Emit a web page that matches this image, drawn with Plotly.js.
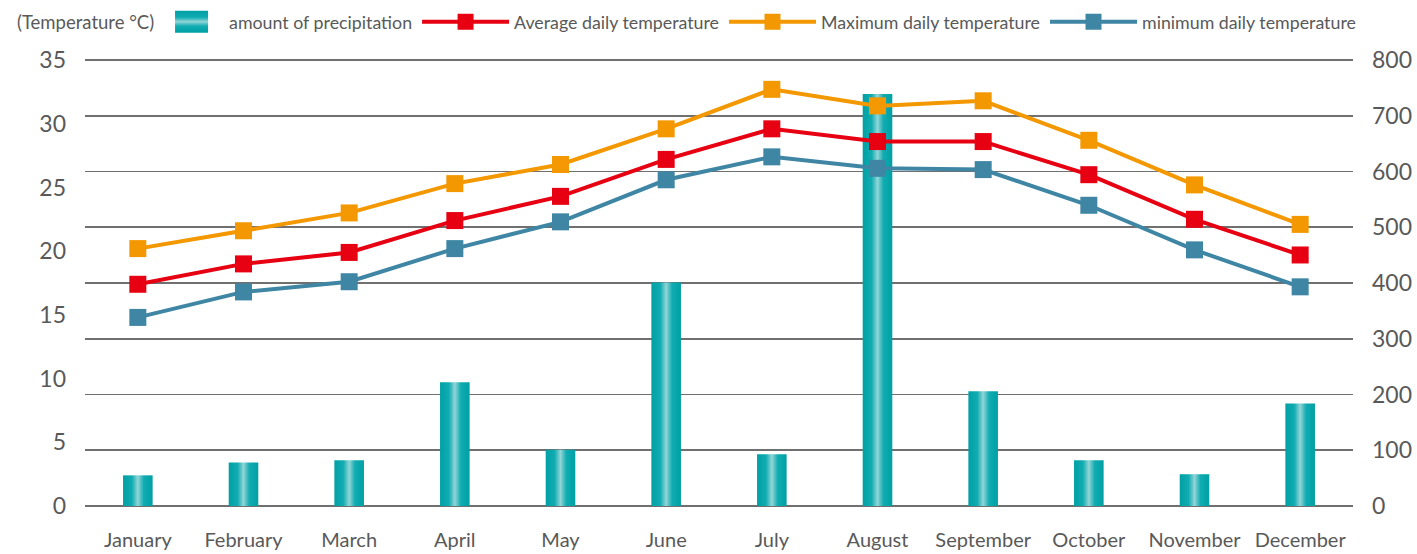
<!DOCTYPE html>
<html>
<head>
<meta charset="utf-8">
<script src="https://cdn.plot.ly/plotly-3.0.1.min.js"></script>
<style>
  html, body { margin: 0; padding: 0; background: #fff; }
  #chart { width: 1417px; height: 554px; }
</style>
</head>
<body>
<div id="chart"></div>
<script>
// Monthly climate data
const months = ['January', 'February', 'March', 'April', 'May', 'June',
                'July', 'August', 'September', 'October', 'November', 'December'];
const precipitation = [55, 78, 82, 222, 101, 401, 93, 739, 206, 82, 57, 184];
const avgTemp = [17.4, 19.0, 19.9, 22.4, 24.3, 27.2, 29.6, 28.6, 28.6, 26.0, 22.5, 19.7];
const maxTemp = [20.2, 21.6, 23.0, 25.3, 26.8, 29.6, 32.7, 31.4, 31.8, 28.7, 25.2, 22.1];
const minTemp = [14.8, 16.8, 17.6, 20.2, 22.3, 25.6, 27.4, 26.5, 26.4, 23.6, 20.1, 17.2];

const textColor = '#595959';
const gridColor = '#707070';
const font = 'Lato, "Open Sans", sans-serif';

// a little headroom so the 800 gridline is not dropped at the plot edge
const precipTop = 805.4;

function lineTrace(name, y, color) {
    return {
        x: months, y: y, name: name,
        type: 'scatter', mode: 'lines+markers',
        yaxis: 'y2',
        line: { color: color, width: 4 },
        marker: { color: color, symbol: 'square', size: 17 }
    };
}

const data = [
    {
        x: months, y: precipitation, name: 'amount of precipitation',
        type: 'bar', marker: { color: '#00a7ac', line: { width: 0 } }
    },
    lineTrace('Average daily temperature', avgTemp, '#e60012'),
    lineTrace('Maximum daily temperature', maxTemp, '#f39800'),
    lineTrace('minimum daily temperature', minTemp, '#3f86a5')
];

const layout = {
    width: 1417, height: 554,
    margin: { l: 85, r: 64, t: 57, b: 48, autoexpand: false },
    paper_bgcolor: '#fff', plot_bgcolor: '#fff',
    font: { family: font, color: textColor },
    bargap: 0.72,
    showlegend: true,
    legend: {
        orientation: 'h', xref: 'paper', x: 0.0371, xanchor: 'left',
        yref: 'container', y: 0.96, yanchor: 'middle',
        font: { size: 17.8, color: textColor }, itemwidth: 87, traceorder: 'normal'
    },
    xaxis: {
        type: 'category', range: [-0.5, 11.5],
        showgrid: false, zeroline: false, showline: false, ticks: '',
        tickfont: { size: 20, color: textColor }, ticklabelstandoff: 20
    },
    yaxis: {
        side: 'right', range: [0, precipTop], dtick: 100, tick0: 0,
        showgrid: true, gridcolor: gridColor, gridwidth: 1.6,
        zeroline: true, zerolinecolor: gridColor, zerolinewidth: 1.6,
        showline: false, ticks: '', tickfont: { size: 23, color: textColor },
        ticklabelstandoff: 18
    },
    yaxis2: {
        overlaying: 'y', side: 'left', range: [0, 35 * precipTop / 800], dtick: 5, tick0: 0,
        showgrid: false, zeroline: false, showline: false, ticks: '',
        tickfont: { size: 23, color: textColor }, ticklabelstandoff: 18
    },
    annotations: [{
        text: '(Temperature °C)', xref: 'paper', yref: 'paper',
        x: -0.0552, y: 1.079, xanchor: 'left', yanchor: 'middle', showarrow: false,
        font: { size: 18.5, color: textColor }
    }]
};

Plotly.newPlot('chart', data, layout, { displayModeBar: false, staticPlot: true }).then(gd => {
    // teal bars with a light centre stripe
    const ns = 'http://www.w3.org/2000/svg';
    const defs = gd.querySelector('svg.main-svg defs');
    function addGrad(id, vertical) {
        const g = document.createElementNS(ns, 'linearGradient');
        g.setAttribute('id', id);
        g.setAttribute('x1', '0'); g.setAttribute('y1', '0');
        g.setAttribute('x2', vertical ? '0' : '1'); g.setAttribute('y2', vertical ? '1' : '0');
        [[0, '#00a0a5'], [0.3, '#10acb1'], [0.5, '#92d5d7'], [0.7, '#10acb1'], [1, '#00a0a5']].forEach(s => {
            const st = document.createElementNS(ns, 'stop');
            st.setAttribute('offset', s[0]);
            st.setAttribute('stop-color', s[1]);
            g.appendChild(st);
        });
        defs.appendChild(g);
    }
    addGrad('barGrad', false);
    addGrad('barGradV', true);
    gd.querySelectorAll('.barlayer .point path').forEach(p => { p.style.fill = 'url(#barGrad)'; });

    // bigger legend swatch for the bar series
    const barItem = gd.querySelectorAll('.legend .traces')[0];
    if (barItem) {
        barItem.querySelectorAll('.legendpoints path').forEach(p => {
            p.setAttribute('d', 'M-16.5,-11H16.5V11H-16.5Z');
            p.setAttribute('transform', 'translate(59.5,0)');
            p.style.fill = 'url(#barGradV)';
            p.style.stroke = 'none';
        });
    }
});
</script>
</body>
</html>
